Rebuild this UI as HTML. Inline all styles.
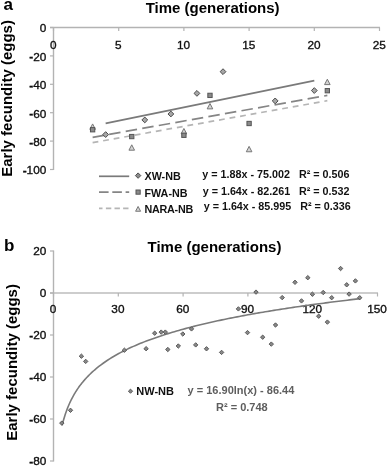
<!DOCTYPE html>
<html><head><meta charset="utf-8"><style>
html,body{margin:0;padding:0;background:#fff;}
body{width:387px;height:466px;overflow:hidden;}
svg{display:block;filter:grayscale(1) blur(0.3px);}
text{font-family:"Liberation Sans", sans-serif;}
.tl{font-size:11.8px;fill:#111;stroke:#111;stroke-width:0.35px;}
.hy{font-weight:bold;}
.tt{font-size:15px;font-weight:bold;fill:#000;}
.pl{font-size:17px;font-weight:bold;fill:#000;}
.lg{font-size:10.75px;font-weight:bold;fill:#111;}
.lb{font-size:11px;font-weight:bold;fill:#111;}
</style></head><body>
<svg width="387" height="466" viewBox="0 0 387 466">
<rect width="387" height="466" fill="#fff"/>
<line x1="50" y1="27.5" x2="380.0" y2="27.5" stroke="#b3b3b3" stroke-width="1.4"/>
<line x1="53.5" y1="27.5" x2="53.5" y2="170.0" stroke="#b3b3b3" stroke-width="1.4"/>
<line x1="53.5" y1="27.5" x2="53.5" y2="31.0" stroke="#b3b3b3" stroke-width="1.2"/>
<text x="53.20" y="49.1" text-anchor="middle" class="tl">0</text>
<line x1="118.69999999999999" y1="27.5" x2="118.69999999999999" y2="31.0" stroke="#b3b3b3" stroke-width="1.2"/>
<text x="118.40" y="49.1" text-anchor="middle" class="tl">5</text>
<line x1="183.89999999999998" y1="27.5" x2="183.89999999999998" y2="31.0" stroke="#b3b3b3" stroke-width="1.2"/>
<text x="183.60" y="49.1" text-anchor="middle" class="tl">10</text>
<line x1="249.1" y1="27.5" x2="249.1" y2="31.0" stroke="#b3b3b3" stroke-width="1.2"/>
<text x="248.80" y="49.1" text-anchor="middle" class="tl">15</text>
<line x1="314.29999999999995" y1="27.5" x2="314.29999999999995" y2="31.0" stroke="#b3b3b3" stroke-width="1.2"/>
<text x="314.00" y="49.1" text-anchor="middle" class="tl">20</text>
<line x1="379.5" y1="27.5" x2="379.5" y2="31.0" stroke="#b3b3b3" stroke-width="1.2"/>
<text x="379.20" y="49.1" text-anchor="middle" class="tl">25</text>
<line x1="50" y1="27.5" x2="53.5" y2="27.5" stroke="#b3b3b3" stroke-width="1.2"/>
<text x="46.3" y="32.30" text-anchor="end" class="tl">0</text>
<line x1="50" y1="55.9" x2="53.5" y2="55.9" stroke="#b3b3b3" stroke-width="1.2"/>
<text x="46.3" y="60.70" text-anchor="end" class="tl"><tspan class="hy" dy="-0.4">-</tspan><tspan dy="0.4">20</tspan></text>
<line x1="50" y1="84.3" x2="53.5" y2="84.3" stroke="#b3b3b3" stroke-width="1.2"/>
<text x="46.3" y="89.10" text-anchor="end" class="tl"><tspan class="hy" dy="-0.4">-</tspan><tspan dy="0.4">40</tspan></text>
<line x1="50" y1="112.69999999999999" x2="53.5" y2="112.69999999999999" stroke="#b3b3b3" stroke-width="1.2"/>
<text x="46.3" y="117.50" text-anchor="end" class="tl"><tspan class="hy" dy="-0.4">-</tspan><tspan dy="0.4">60</tspan></text>
<line x1="50" y1="141.1" x2="53.5" y2="141.1" stroke="#b3b3b3" stroke-width="1.2"/>
<text x="46.3" y="145.90" text-anchor="end" class="tl"><tspan class="hy" dy="-0.4">-</tspan><tspan dy="0.4">80</tspan></text>
<line x1="50" y1="169.5" x2="53.5" y2="169.5" stroke="#b3b3b3" stroke-width="1.2"/>
<text x="46.3" y="174.30" text-anchor="end" class="tl"><tspan class="hy" dy="-0.4">-</tspan><tspan dy="0.4">100</tspan></text>
<line x1="105.66" y1="123.32" x2="314.30" y2="80.61" stroke="#7a7a7a" stroke-width="1.7"/>
<line x1="92.62" y1="137.32" x2="327.34" y2="95.41" stroke="#858585" stroke-width="1.7" stroke-dasharray="11.5 5.3"/>
<line x1="92.62" y1="142.63" x2="327.34" y2="100.71" stroke="#b5b5b5" stroke-width="1.7" stroke-dasharray="5.8 4.9"/>
<path d="M92.62 123.93L95.42 129.33L89.82 129.33Z" fill="#d4d4d4" stroke="#777777" stroke-width="1"/>
<path d="M131.74 144.80L134.54 150.20L128.94 150.20Z" fill="#d4d4d4" stroke="#777777" stroke-width="1"/>
<path d="M183.90 128.47L186.70 133.87L181.10 133.87Z" fill="#d4d4d4" stroke="#777777" stroke-width="1"/>
<path d="M209.98 103.48L212.78 108.88L207.18 108.88Z" fill="#d4d4d4" stroke="#777777" stroke-width="1"/>
<path d="M249.10 146.37L251.90 151.77L246.30 151.77Z" fill="#d4d4d4" stroke="#777777" stroke-width="1"/>
<path d="M327.34 79.20L330.14 84.60L324.54 84.60Z" fill="#d4d4d4" stroke="#777777" stroke-width="1"/>
<rect x="90.47" y="127.59" width="4.3" height="4.3" fill="#8a8a8a" stroke="#555555" stroke-width="1"/>
<rect x="129.59" y="134.41" width="4.3" height="4.3" fill="#8a8a8a" stroke="#555555" stroke-width="1"/>
<rect x="181.75" y="133.13" width="4.3" height="4.3" fill="#8a8a8a" stroke="#555555" stroke-width="1"/>
<rect x="207.83" y="93.23" width="4.3" height="4.3" fill="#8a8a8a" stroke="#555555" stroke-width="1"/>
<rect x="246.95" y="121.34" width="4.3" height="4.3" fill="#8a8a8a" stroke="#555555" stroke-width="1"/>
<rect x="325.19" y="88.54" width="4.3" height="4.3" fill="#8a8a8a" stroke="#555555" stroke-width="1"/>
<path d="M105.66 131.67L108.56 134.57L105.66 137.47L102.76 134.57Z" fill="#a6a6a6" stroke="#4d4d4d" stroke-width="1"/>
<path d="M144.78 117.04L147.68 119.94L144.78 122.84L141.88 119.94Z" fill="#a6a6a6" stroke="#4d4d4d" stroke-width="1"/>
<path d="M170.86 111.08L173.76 113.98L170.86 116.88L167.96 113.98Z" fill="#a6a6a6" stroke="#4d4d4d" stroke-width="1"/>
<path d="M196.94 90.49L199.84 93.39L196.94 96.29L194.04 93.39Z" fill="#a6a6a6" stroke="#4d4d4d" stroke-width="1"/>
<path d="M223.02 68.76L225.92 71.66L223.02 74.56L220.12 71.66Z" fill="#a6a6a6" stroke="#4d4d4d" stroke-width="1"/>
<path d="M275.18 98.01L278.08 100.91L275.18 103.81L272.28 100.91Z" fill="#a6a6a6" stroke="#4d4d4d" stroke-width="1"/>
<path d="M314.30 87.65L317.20 90.55L314.30 93.45L311.40 90.55Z" fill="#a6a6a6" stroke="#4d4d4d" stroke-width="1"/>
<line x1="99" y1="176.3" x2="129.2" y2="176.3" stroke="#7a7a7a" stroke-width="1.7"/>
<line x1="99" y1="192.1" x2="129.2" y2="192.1" stroke="#858585" stroke-width="1.7" stroke-dasharray="9.6 3.7"/>
<line x1="99" y1="208.3" x2="129.2" y2="208.3" stroke="#b5b5b5" stroke-width="1.7" stroke-dasharray="3.5 3.4 5.4 3.2 5.4 3.2 5.4 3.2"/>
<path d="M138.10 172.90L140.80 175.60L138.10 178.30L135.40 175.60Z" fill="#8c8c8c" stroke="#4d4d4d" stroke-width="1"/>
<rect x="136.00" y="190.00" width="4.2" height="4.2" fill="#8a8a8a" stroke="#555555" stroke-width="1"/>
<path d="M138.10 206.46L140.60 211.26L135.60 211.26Z" fill="#d4d4d4" stroke="#777777" stroke-width="1"/>
<text x="144.5" y="180.2" class="lg">XW-NB</text>
<text x="202.3" y="178.39999999999998" class="lg">y = 1.88x - 75.002</text>
<text x="299" y="178.39999999999998" class="lg">R² = 0.506</text>
<text x="144.5" y="196.6" class="lg">FWA-NB</text>
<text x="202.70000000000002" y="194.49999999999997" class="lg">y = 1.64x - 82.261</text>
<text x="299" y="194.49999999999997" class="lg">R² = 0.532</text>
<text x="144.5" y="212.8" class="lg" letter-spacing="-0.25">NARA-NB</text>
<text x="203.70000000000002" y="210.2" class="lg">y = 1.64x - 85.995</text>
<text x="300.2" y="210.2" class="lg">R² = 0.336</text>
<text transform="translate(145.7,13.2)" class="tt">Time (generations)</text>
<text x="3.6" y="9.7" class="pl">a</text>
<text transform="translate(12.2,98.4) rotate(-90)" text-anchor="middle" class="tt">Early fecundity (eggs)</text>
<line x1="50" y1="293.0" x2="378.0" y2="293.0" stroke="#bdbdbd" stroke-width="1.7"/>
<line x1="53.5" y1="250.5" x2="53.5" y2="461.5" stroke="#b3b3b3" stroke-width="1.4"/>
<line x1="53.5" y1="293.0" x2="53.5" y2="296.5" stroke="#b3b3b3" stroke-width="1.2"/>
<text x="53.10" y="313" text-anchor="middle" class="tl">0</text>
<line x1="118.30000000000001" y1="293.0" x2="118.30000000000001" y2="296.5" stroke="#b3b3b3" stroke-width="1.2"/>
<text x="117.90" y="313" text-anchor="middle" class="tl">30</text>
<line x1="183.10000000000002" y1="293.0" x2="183.10000000000002" y2="296.5" stroke="#b3b3b3" stroke-width="1.2"/>
<text x="182.70" y="313" text-anchor="middle" class="tl">60</text>
<line x1="247.9" y1="293.0" x2="247.9" y2="296.5" stroke="#b3b3b3" stroke-width="1.2"/>
<text x="247.50" y="313" text-anchor="middle" class="tl">90</text>
<line x1="312.70000000000005" y1="293.0" x2="312.70000000000005" y2="296.5" stroke="#b3b3b3" stroke-width="1.2"/>
<text x="312.30" y="313" text-anchor="middle" class="tl">120</text>
<line x1="377.5" y1="293.0" x2="377.5" y2="296.5" stroke="#b3b3b3" stroke-width="1.2"/>
<text x="377.10" y="313" text-anchor="middle" class="tl">150</text>
<line x1="50" y1="251.0" x2="53.5" y2="251.0" stroke="#b3b3b3" stroke-width="1.2"/>
<text x="46.3" y="255.40" text-anchor="end" class="tl">20</text>
<line x1="50" y1="293.0" x2="53.5" y2="293.0" stroke="#b3b3b3" stroke-width="1.2"/>
<text x="46.3" y="297.40" text-anchor="end" class="tl">0</text>
<line x1="50" y1="335.0" x2="53.5" y2="335.0" stroke="#b3b3b3" stroke-width="1.2"/>
<text x="46.3" y="339.40" text-anchor="end" class="tl"><tspan class="hy" dy="-0.4">-</tspan><tspan dy="0.4">20</tspan></text>
<line x1="50" y1="377.0" x2="53.5" y2="377.0" stroke="#b3b3b3" stroke-width="1.2"/>
<text x="46.3" y="381.40" text-anchor="end" class="tl"><tspan class="hy" dy="-0.4">-</tspan><tspan dy="0.4">40</tspan></text>
<line x1="50" y1="419.0" x2="53.5" y2="419.0" stroke="#b3b3b3" stroke-width="1.2"/>
<text x="46.3" y="423.40" text-anchor="end" class="tl"><tspan class="hy" dy="-0.4">-</tspan><tspan dy="0.4">60</tspan></text>
<line x1="50" y1="461.0" x2="53.5" y2="461.0" stroke="#b3b3b3" stroke-width="1.2"/>
<text x="46.3" y="465.40" text-anchor="end" class="tl"><tspan class="hy" dy="-0.4">-</tspan><tspan dy="0.4">80</tspan></text>
<path d="M62.14 425.32 L62.68 423.17 L63.22 421.14 L63.76 419.23 L64.30 417.41 L64.84 415.67 L65.38 414.02 L65.92 412.44 L66.46 410.93 L67.00 409.49 L67.54 408.09 L68.08 406.75 L68.62 405.46 L69.16 404.22 L69.70 403.02 L70.24 401.85 L70.78 400.72 L71.32 399.63 L71.86 398.57 L72.40 397.54 L72.94 396.54 L73.48 395.57 L74.02 394.63 L74.56 393.70 L75.10 392.81 L75.64 391.93 L76.18 391.07 L76.72 390.24 L77.26 389.42 L77.80 388.63 L78.34 387.85 L78.88 387.08 L79.42 386.33 L79.96 385.60 L80.50 384.89 L81.04 384.18 L81.58 383.49 L82.12 382.82 L82.66 382.15 L83.20 381.50 L83.74 380.86 L84.28 380.24 L84.82 379.62 L85.36 379.01 L85.90 378.42 L86.44 377.83 L86.98 377.25 L87.52 376.68 L88.06 376.12 L88.60 375.57 L89.14 375.03 L89.68 374.50 L90.22 373.97 L90.76 373.46 L91.30 372.94 L91.84 372.44 L92.38 371.94 L92.92 371.46 L93.46 370.97 L94.00 370.50 L94.54 370.03 L95.08 369.56 L95.62 369.10 L96.16 368.65 L96.70 368.21 L98.86 366.47 L101.02 364.82 L103.18 363.25 L105.34 361.73 L107.50 360.29 L109.66 358.89 L111.82 357.55 L113.98 356.26 L116.14 355.02 L118.30 353.82 L120.46 352.65 L122.62 351.53 L124.78 350.43 L126.94 349.37 L129.10 348.34 L131.26 347.34 L133.42 346.37 L135.58 345.43 L137.74 344.50 L139.90 343.61 L142.06 342.73 L144.22 341.87 L146.38 341.04 L148.54 340.22 L150.70 339.43 L152.86 338.65 L155.02 337.88 L157.18 337.14 L159.34 336.40 L161.50 335.69 L163.66 334.98 L165.82 334.29 L167.98 333.62 L170.14 332.95 L172.30 332.30 L174.46 331.66 L176.62 331.04 L178.78 330.42 L180.94 329.81 L183.10 329.22 L185.26 328.63 L187.42 328.05 L189.58 327.48 L191.74 326.93 L193.90 326.37 L196.06 325.83 L198.22 325.30 L200.38 324.77 L202.54 324.26 L204.70 323.74 L206.86 323.24 L209.02 322.75 L211.18 322.26 L213.34 321.77 L215.50 321.30 L217.66 320.83 L219.82 320.36 L221.98 319.90 L224.14 319.45 L226.30 319.01 L228.46 318.56 L230.62 318.13 L232.78 317.70 L234.94 317.27 L237.10 316.85 L239.26 316.44 L241.42 316.03 L243.58 315.62 L245.74 315.22 L247.90 314.83 L250.06 314.43 L252.22 314.05 L254.38 313.66 L256.54 313.28 L258.70 312.91 L260.86 312.54 L263.02 312.17 L265.18 311.80 L267.34 311.44 L269.50 311.09 L271.66 310.73 L273.82 310.38 L275.98 310.04 L278.14 309.69 L280.30 309.35 L282.46 309.02 L284.62 308.69 L286.78 308.36 L288.94 308.03 L291.10 307.70 L293.26 307.38 L295.42 307.06 L297.58 306.75 L299.74 306.44 L301.90 306.13 L304.06 305.82 L306.22 305.51 L308.38 305.21 L310.54 304.91 L312.70 304.62 L314.86 304.32 L317.02 304.03 L319.18 303.74 L321.34 303.45 L323.50 303.17 L325.66 302.88 L327.82 302.60 L329.98 302.33 L332.14 302.05 L334.30 301.78 L336.46 301.50 L338.62 301.23 L340.78 300.97 L342.94 300.70 L345.10 300.44 L347.26 300.17 L349.42 299.91 L351.58 299.66 L353.74 299.40 L355.90 299.15 L358.06 298.89 L360.22 298.64" fill="none" stroke="#7a7a7a" stroke-width="1.6"/>
<path d="M61.80 420.90L64.00 423.10L61.80 425.30L59.60 423.10Z" fill="#888888" stroke="#505050" stroke-width="0.9"/>
<path d="M70.50 408.10L72.70 410.30L70.50 412.50L68.30 410.30Z" fill="#888888" stroke="#505050" stroke-width="0.9"/>
<path d="M81.40 354.00L83.60 356.20L81.40 358.40L79.20 356.20Z" fill="#888888" stroke="#505050" stroke-width="0.9"/>
<path d="M85.70 359.20L87.90 361.40L85.70 363.60L83.50 361.40Z" fill="#888888" stroke="#505050" stroke-width="0.9"/>
<path d="M124.40 348.00L126.60 350.20L124.40 352.40L122.20 350.20Z" fill="#888888" stroke="#505050" stroke-width="0.9"/>
<path d="M146.10 346.50L148.30 348.70L146.10 350.90L143.90 348.70Z" fill="#888888" stroke="#505050" stroke-width="0.9"/>
<path d="M154.70 331.00L156.90 333.20L154.70 335.40L152.50 333.20Z" fill="#888888" stroke="#505050" stroke-width="0.9"/>
<path d="M161.20 329.90L163.40 332.10L161.20 334.30L159.00 332.10Z" fill="#888888" stroke="#505050" stroke-width="0.9"/>
<path d="M165.30 329.90L167.50 332.10L165.30 334.30L163.10 332.10Z" fill="#888888" stroke="#505050" stroke-width="0.9"/>
<path d="M167.80 347.30L170.00 349.50L167.80 351.70L165.60 349.50Z" fill="#888888" stroke="#505050" stroke-width="0.9"/>
<path d="M178.30 343.80L180.50 346.00L178.30 348.20L176.10 346.00Z" fill="#888888" stroke="#505050" stroke-width="0.9"/>
<path d="M182.80 331.80L185.00 334.00L182.80 336.20L180.60 334.00Z" fill="#888888" stroke="#505050" stroke-width="0.9"/>
<path d="M191.50 326.70L193.70 328.90L191.50 331.10L189.30 328.90Z" fill="#888888" stroke="#505050" stroke-width="0.9"/>
<path d="M195.70 342.70L197.90 344.90L195.70 347.10L193.50 344.90Z" fill="#888888" stroke="#505050" stroke-width="0.9"/>
<path d="M206.50 346.60L208.70 348.80L206.50 351.00L204.30 348.80Z" fill="#888888" stroke="#505050" stroke-width="0.9"/>
<path d="M221.60 350.20L223.80 352.40L221.60 354.60L219.40 352.40Z" fill="#888888" stroke="#505050" stroke-width="0.9"/>
<path d="M238.40 306.70L240.60 308.90L238.40 311.10L236.20 308.90Z" fill="#888888" stroke="#505050" stroke-width="0.9"/>
<path d="M247.50 330.40L249.70 332.60L247.50 334.80L245.30 332.60Z" fill="#888888" stroke="#505050" stroke-width="0.9"/>
<path d="M256.00 289.90L258.20 292.10L256.00 294.30L253.80 292.10Z" fill="#888888" stroke="#505050" stroke-width="0.9"/>
<path d="M262.70 335.00L264.90 337.20L262.70 339.40L260.50 337.20Z" fill="#888888" stroke="#505050" stroke-width="0.9"/>
<path d="M271.30 341.90L273.50 344.10L271.30 346.30L269.10 344.10Z" fill="#888888" stroke="#505050" stroke-width="0.9"/>
<path d="M275.50 322.80L277.70 325.00L275.50 327.20L273.30 325.00Z" fill="#888888" stroke="#505050" stroke-width="0.9"/>
<path d="M282.20 295.40L284.40 297.60L282.20 299.80L280.00 297.60Z" fill="#888888" stroke="#505050" stroke-width="0.9"/>
<path d="M295.00 280.10L297.20 282.30L295.00 284.50L292.80 282.30Z" fill="#888888" stroke="#505050" stroke-width="0.9"/>
<path d="M301.50 298.70L303.70 300.90L301.50 303.10L299.30 300.90Z" fill="#888888" stroke="#505050" stroke-width="0.9"/>
<path d="M307.80 275.50L310.00 277.70L307.80 279.90L305.60 277.70Z" fill="#888888" stroke="#505050" stroke-width="0.9"/>
<path d="M312.40 292.00L314.60 294.20L312.40 296.40L310.20 294.20Z" fill="#888888" stroke="#505050" stroke-width="0.9"/>
<path d="M318.70 314.00L320.90 316.20L318.70 318.40L316.50 316.20Z" fill="#888888" stroke="#505050" stroke-width="0.9"/>
<path d="M323.20 290.30L325.40 292.50L323.20 294.70L321.00 292.50Z" fill="#888888" stroke="#505050" stroke-width="0.9"/>
<path d="M327.40 319.90L329.60 322.10L327.40 324.30L325.20 322.10Z" fill="#888888" stroke="#505050" stroke-width="0.9"/>
<path d="M331.70 295.50L333.90 297.70L331.70 299.90L329.50 297.70Z" fill="#888888" stroke="#505050" stroke-width="0.9"/>
<path d="M340.60 266.30L342.80 268.50L340.60 270.70L338.40 268.50Z" fill="#888888" stroke="#505050" stroke-width="0.9"/>
<path d="M346.70 282.60L348.90 284.80L346.70 287.00L344.50 284.80Z" fill="#888888" stroke="#505050" stroke-width="0.9"/>
<path d="M349.10 291.90L351.30 294.10L349.10 296.30L346.90 294.10Z" fill="#888888" stroke="#505050" stroke-width="0.9"/>
<path d="M355.40 278.70L357.60 280.90L355.40 283.10L353.20 280.90Z" fill="#888888" stroke="#505050" stroke-width="0.9"/>
<path d="M359.70 295.50L361.90 297.70L359.70 299.90L357.50 297.70Z" fill="#888888" stroke="#505050" stroke-width="0.9"/>
<path d="M130.50 389.10L132.60 391.20L130.50 393.30L128.40 391.20Z" fill="#888888" stroke="#505050" stroke-width="0.9"/>
<text x="136.3" y="394.6" class="lb">NW-NB</text>
<text x="187.6" y="394.2" class="lb" style="fill:#5e5e5e">y = 16.90ln(x) - 86.44</text>
<text x="216" y="410.8" class="lb" style="fill:#5e5e5e">R² = 0.748</text>
<text transform="translate(147.5,251.8)" class="tt">Time (generations)</text>
<text x="4" y="251" class="pl">b</text>
<text transform="translate(17.2,362.4) rotate(-90)" text-anchor="middle" class="tt">Early fecundity (eggs)</text>
</svg>
</body></html>
